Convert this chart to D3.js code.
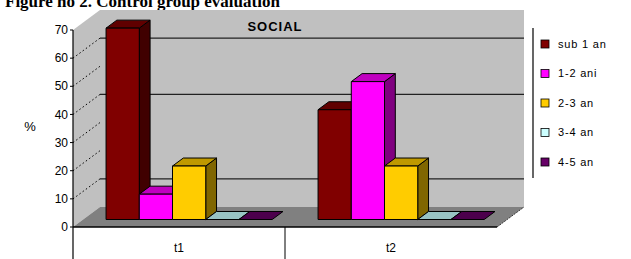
<!DOCTYPE html>
<html>
<head>
<meta charset="utf-8">
<script src="https://cdn.jsdelivr.net/npm/d3@7"></script>
<style>
  body { margin: 0; background: #fff; }
  svg { display: block; }
  text { font-family: "Liberation Sans", Arial, sans-serif; }
</style>
</head>
<body>
<div id="chart"></div>
<script>
// data
var categories = ["t1", "t2"];
var series = ["sub 1 an", "1-2 ani", "2-3 an", "3-4 an", "4-5 an"];
var values = {
  "sub 1 an": [68, 39],
  "1-2 ani": [9, 49],
  "2-3 an": [19, 19],
  "3-4 an": [0, 0],
  "4-5 an": [0, 0]
};
var yTicks = [0, 10, 20, 30, 40, 50, 60, 70];
var wallGrid = [10, 40, 60];      // the back-wall lines that survive in the scan
var sideGrid = [10, 20, 30, 40, 50, 60];

var faceColors = {
  "sub 1 an": ["#800000", "#600000", "#400000"],
  "1-2 ani": ["#ff00ff", "#c000c0", "#800080"],
  "2-3 an": ["#ffcc00", "#bf9900", "#806600"],
  "3-4 an": ["#ccffff", "#99c4c4", "#668080"],
  "4-5 an": ["#660066", "#4c004c", "#330033"]
};

var W = 631, H = 259;
var depthX = 27, depthY = -20;     // full depth of the plot box
var barFront = 0.375, barBack = 0.775;

var svg = d3.select("#chart").append("svg")
  .attr("width", W).attr("height", H);

// figure caption, cut off at the top of the crop
svg.append("text")
  .attr("x", 5).attr("y", 7)
  .style("font-family", "'Liberation Serif', 'Times New Roman', serif")
  .style("font-weight", "bold")
  .style("font-size", "17px")
  .text("Figure no 2. Control group evaluation");

var y = d3.scaleLinear().domain([0, 70]).range([227, 30]);
var x = d3.scaleBand().domain(categories).range([73, 497]);
var xs = d3.scaleBand().domain(series).range([0, x.bandwidth()])
  .paddingInner(0).paddingOuter(0.69);

function pt(px, v, f) {
  return [px + depthX * f, y(v) + depthY * f];
}
function poly(points) {
  return points.map(function (p) { return p.join(","); }).join(" ");
}

var x0 = x.range()[0], x1 = x.range()[1];

// back wall
svg.append("polygon")
  .attr("points", poly([pt(x0, 0, 1), pt(x1, 0, 1), pt(x1, 70, 1), pt(x0, 70, 1)]))
  .attr("fill", "#c0c0c0");
// left wall
svg.append("polygon")
  .attr("points", poly([pt(x0, 0, 0), pt(x0, 0, 1), pt(x0, 70, 1), pt(x0, 70, 0)]))
  .attr("fill", "#c0c0c0");
// floor
svg.append("polygon")
  .attr("points", poly([pt(x0, 0, 0), pt(x1, 0, 0), pt(x1, 0, 1), pt(x0, 0, 1)]))
  .attr("fill", "#808080");
svg.append("line")
  .attr("x1", pt(x1, 0, 0)[0]).attr("y1", pt(x1, 0, 0)[1])
  .attr("x2", pt(x1, 0, 1)[0]).attr("y2", pt(x1, 0, 1)[1])
  .attr("stroke", "#333").attr("stroke-dasharray", "2,1");

// grid lines
svg.selectAll(".wallgrid").data(wallGrid).enter().append("line")
  .attr("x1", pt(x0, 0, 1)[0]).attr("x2", pt(x1, 0, 1)[0])
  .attr("y1", function (d) { return pt(x0, d, 1)[1]; })
  .attr("y2", function (d) { return pt(x0, d, 1)[1]; })
  .attr("stroke", "#222").attr("stroke-width", 1.2);
svg.selectAll(".sidegrid").data(sideGrid).enter().append("line")
  .attr("x1", function (d) { return pt(x0, d, 0)[0]; })
  .attr("y1", function (d) { return pt(x0, d, 0)[1]; })
  .attr("x2", function (d) { return pt(x0, d, 1)[0]; })
  .attr("y2", function (d) { return pt(x0, d, 1)[1]; })
  .attr("stroke", "#000").attr("stroke-dasharray", "1.5,2.5");

// chart title on the wall
svg.append("text")
  .attr("x", 275).attr("y", 31)
  .attr("text-anchor", "middle")
  .style("font-size", "13px").style("font-weight", "bold")
  .style("letter-spacing", "1px")
  .text("SOCIAL");

// bars
categories.forEach(function (cat, ci) {
  series.forEach(function (s) {
    var v = values[s][ci];
    var c = faceColors[s];
    var l = x(cat) + xs(s), r = l + xs.bandwidth();
    var g = svg.append("g").attr("stroke", "#000").attr("stroke-width", 1)
      .attr("stroke-linejoin", "round");
    if (v > 0) {
      g.append("polygon")
        .attr("points", poly([pt(r, 0, barFront), pt(r, 0, barBack), pt(r, v, barBack), pt(r, v, barFront)]))
        .attr("fill", c[2]);
      g.append("polygon")
        .attr("points", poly([pt(l, v, barFront), pt(r, v, barFront), pt(r, v, barBack), pt(l, v, barBack)]))
        .attr("fill", c[1]);
      g.append("polygon")
        .attr("points", poly([pt(l, 0, barFront), pt(r, 0, barFront), pt(r, v, barFront), pt(l, v, barFront)]))
        .attr("fill", c[0]);
    } else {
      g.append("polygon")
        .attr("points", poly([pt(l, 0, barFront), pt(r, 0, barFront), pt(r, 0, barBack), pt(l, 0, barBack)]))
        .attr("fill", c[1]);
    }
  });
});

// value axis
svg.append("line")
  .attr("x1", x0).attr("x2", x0).attr("y1", y(70)).attr("y2", H)
  .attr("stroke", "#000").attr("stroke-width", 1.2);
var ticks = svg.selectAll(".ytick").data(yTicks).enter().append("g");
ticks.append("line")
  .attr("x1", x0 - 3).attr("x2", x0)
  .attr("y1", function (d) { return y(d); }).attr("y2", function (d) { return y(d); })
  .attr("stroke", "#000");
ticks.append("text")
  .attr("x", x0 - 5).attr("y", function (d) { return y(d); })
  .attr("dy", "0.35em").attr("text-anchor", "end")
  .style("font-size", "12px")
  .text(function (d) { return d; });
svg.append("text")
  .attr("x", 30).attr("y", 126).attr("dy", "0.35em")
  .attr("text-anchor", "middle")
  .style("font-size", "13px")
  .text("%");

// category axis
svg.append("line")
  .attr("x1", x0).attr("x2", x1).attr("y1", y(0)).attr("y2", y(0))
  .attr("stroke", "#000").attr("stroke-width", 1.4);
svg.append("line")
  .attr("x1", x(categories[1])).attr("x2", x(categories[1]))
  .attr("y1", y(0)).attr("y2", H)
  .attr("stroke", "#000");
svg.selectAll(".xlab").data(categories).enter().append("text")
  .attr("x", function (d) { return x(d) + x.bandwidth() / 2; })
  .attr("y", 252)
  .attr("text-anchor", "middle")
  .style("font-size", "12px")
  .text(function (d) { return d; });

// legend
svg.append("line")
  .attr("x1", 533).attr("x2", 533).attr("y1", 28).attr("y2", 178)
  .attr("stroke", "#000").attr("stroke-width", 1.2);
var leg = svg.selectAll(".leg").data(series).enter().append("g")
  .attr("transform", function (d, i) { return "translate(541," + (44 + i * 29.5) + ")"; });
leg.append("rect")
  .attr("x", 0).attr("y", -4).attr("width", 8).attr("height", 8)
  .attr("fill", function (d) { return faceColors[d][0]; })
  .attr("stroke", "#000").attr("stroke-width", 0.8);
leg.append("text")
  .attr("x", 17).attr("dy", "0.35em")
  .style("font-size", "11px")
  .style("letter-spacing", "0.8px")
  .text(function (d) { return d; });
</script>
</body>
</html>
